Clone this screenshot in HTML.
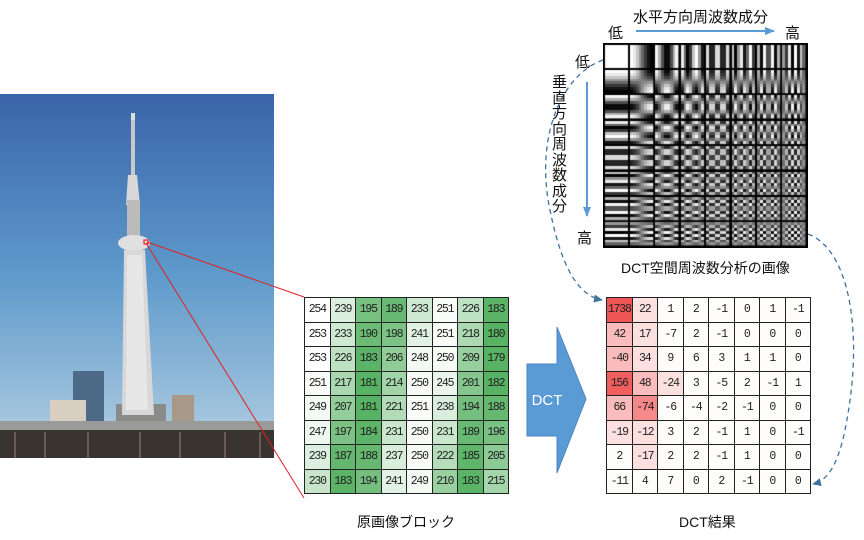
<!DOCTYPE html>
<html><head><meta charset="utf-8"><style>
body{margin:0;width:864px;height:540px;background:#fff;position:relative;overflow:hidden;font-family:"Liberation Sans","Noto Sans CJK JP",sans-serif}
.t{position:absolute;font-size:14px;color:#111;white-space:nowrap}
table{position:absolute;border-collapse:collapse;font-family:"Liberation Mono",monospace;font-size:11.5px;letter-spacing:-1.2px}
td{border:1px solid #222;width:24.5px;height:23.5px;padding:0;text-align:center;color:#222}
</style></head><body>
<svg width="864" height="540" style="position:absolute;left:0;top:0">
<defs>
<linearGradient id="sky" x1="0" y1="0" x2="0" y2="1"><stop offset="0" stop-color="#3a64aa"/><stop offset="0.5" stop-color="#5e9acb"/><stop offset="1" stop-color="#b5d0e2"/></linearGradient>
<marker id="ah" markerUnits="userSpaceOnUse" markerWidth="10" markerHeight="10" refX="8" refY="4" orient="auto"><path d="M0,0 L9,4 L0,8z" fill="#41719c"/></marker>
<marker id="bh" markerUnits="userSpaceOnUse" markerWidth="12" markerHeight="10" refX="9" refY="4" orient="auto"><path d="M0,0 L10,4 L0,8z" fill="#5b9bd5"/></marker>
</defs>
<rect x="0" y="94" width="274" height="364" fill="url(#sky)"/>
<rect x="73" y="371" width="31" height="50" fill="#4d6a88"/>
<rect x="50" y="400" width="36" height="22" fill="#d8cfc0"/>
<rect x="172" y="395" width="22" height="27" fill="#a89888"/>
<rect x="116" y="404" width="50" height="18" fill="#8a8a8a"/>
<rect x="131" y="113" width="4" height="8" fill="#ddd"/>
<rect x="131" y="120" width="4" height="55" fill="#c8c8c8"/>
<polygon points="128,175 137,175 140,205 126,205" fill="#d8d8d8"/>
<rect x="127" y="200" width="13" height="40" fill="#bbb"/>
<ellipse cx="134" cy="243" rx="16" ry="8" fill="#e0e0e0"/>
<polygon points="124,250 145,250 154,415 122,415" fill="#d8d8d8"/>
<polygon points="127,255 142,255 148,410 126,410" fill="#eee" opacity="0.7"/>
<rect x="0" y="421" width="274" height="9" fill="#9a9a98"/>
<rect x="0" y="430" width="274" height="28" fill="#3a3430"/>
<g stroke="#6a5a55" stroke-width="2"><line x1="15" y1="432" x2="15" y2="458"/><line x1="45" y1="432" x2="45" y2="458"/><line x1="88" y1="432" x2="88" y2="458"/><line x1="140" y1="432" x2="140" y2="458"/><line x1="180" y1="432" x2="180" y2="458"/><line x1="225" y1="432" x2="225" y2="458"/><line x1="260" y1="432" x2="260" y2="458"/></g>
<rect x="144" y="240" width="4" height="4" fill="none" stroke="#e00" stroke-width="1"/>
<line x1="147" y1="242" x2="304" y2="297" stroke="#e02020" stroke-width="1"/>
<line x1="146" y1="243" x2="304" y2="498" stroke="#e02020" stroke-width="1"/>
<polygon points="527,364 557,364 557,327 586,399 557,473 557,436 527,436" fill="#5b9bd5" stroke="#4a86c0"/>
<text x="547" y="405" fill="#fff" font-size="15" font-family="Liberation Sans" text-anchor="middle">DCT</text>
<line x1="636" y1="31" x2="774" y2="31" stroke="#5b9bd5" stroke-width="2" marker-end="url(#bh)"/>
<line x1="587" y1="82" x2="587" y2="216" stroke="#5b9bd5" stroke-width="2" marker-end="url(#bh)"/>
<path d="M603,60 C560,75 535,140 550,210 C560,260 575,295 602,300" fill="none" stroke="#41719c" stroke-width="1.3" stroke-dasharray="5,4" marker-end="url(#ah)"/>
<path d="M808,234 C850,250 860,330 850,400 C842,460 830,480 813,484" fill="none" stroke="#41719c" stroke-width="1.3" stroke-dasharray="5,4" marker-end="url(#ah)"/>
</svg>
<canvas id="c" width="205" height="205" style="position:absolute;left:603px;top:43px"></canvas>
<div class="t" style="left:633px;top:6px;font-size:15px">水平方向周波数成分</div>
<div class="t" style="left:608px;top:22px;font-size:15px">低</div>
<div class="t" style="left:785px;top:22px;font-size:15px">高</div>
<div class="t" style="left:575px;top:51px;font-size:15px">低</div>
<div class="t" style="left:577px;top:227px;font-size:15px">高</div>
<div class="t" style="left:552px;top:75px;font-size:15px;width:16px;white-space:normal;line-height:15.5px">垂直方向周波数成分</div>
<div class="t" style="left:621px;top:258px;font-size:14px">DCT空間周波数分析の画像</div>
<div class="t" style="left:357px;top:512px;font-size:14px">原画像ブロック</div>
<div class="t" style="left:679px;top:512px;font-size:14px">DCT結果</div>
<table id="a" style="left:304px;top:297px"></table>
<table id="b" style="left:606px;top:297px"></table>
<script>
var A=[[254,239,195,189,233,251,226,183],[253,233,190,198,241,251,218,180],[253,226,183,206,248,250,209,179],[251,217,181,214,250,245,201,182],[249,207,181,221,251,238,194,188],[247,197,184,231,250,231,189,196],[239,187,188,237,250,222,185,205],[230,183,194,241,249,210,183,215]];
var B=[[1738,22,1,2,-1,0,1,-1],[42,17,-7,2,-1,0,0,0],[-40,34,9,6,3,1,1,0],[156,48,-24,3,-5,2,-1,1],[66,-74,-6,-4,-2,-1,0,0],[-19,-12,3,2,-1,1,0,-1],[2,-17,2,2,-1,1,0,0],[-11,4,7,0,2,-1,0,0]];
function mk(id,M,col){var h='';M.forEach(function(r){h+='<tr>';r.forEach(function(v){h+='<td style="background:'+col(v)+'">'+v+'</td>'});h+='</tr>'});document.getElementById(id).innerHTML=h;}
function mix(t,c){return 'rgb('+[255,255,255].map(function(w,i){return Math.round(w+(c[i]-w)*t)}).join(',')+')';}
mk('a',A,function(v){var t=Math.max(0,Math.min(1,(254-v)/72));return mix(t,[88,178,100]);});
mk('b',B,function(v){var a=Math.abs(v);var t=a>=1000?1:a>=150?0.95:a>=70?0.7:a>=40?0.4:a>=12?0.18:0.02;return mix(t,[240,85,85]);});
var c=document.getElementById('c').getContext('2d');c.fillStyle='#000';c.fillRect(0,0,205,205);
var N=8,cs=23/8;
for(var u=0;u<8;u++)for(var v=0;v<8;v++){var ox=2+u*25.4,oy=2+v*25.4;
for(var y=0;y<N;y++)for(var x=0;x<N;x++){var val=Math.cos((2*x+1)*u*Math.PI/16)*Math.cos((2*y+1)*v*Math.PI/16);var p=Math.round(127.5+127.5*val);if(u==0&&v==0)p=255;
c.fillStyle='rgb('+p+','+p+','+p+')';c.fillRect(Math.floor(ox+x*cs),Math.floor(oy+y*cs),Math.ceil(cs)+0.5,Math.ceil(cs)+0.5);}
c.fillStyle='#000';c.fillRect(ox+23,oy-2,2.4,26);c.fillRect(ox-2,oy+23,27,2.4);}
</script>
</body></html>
